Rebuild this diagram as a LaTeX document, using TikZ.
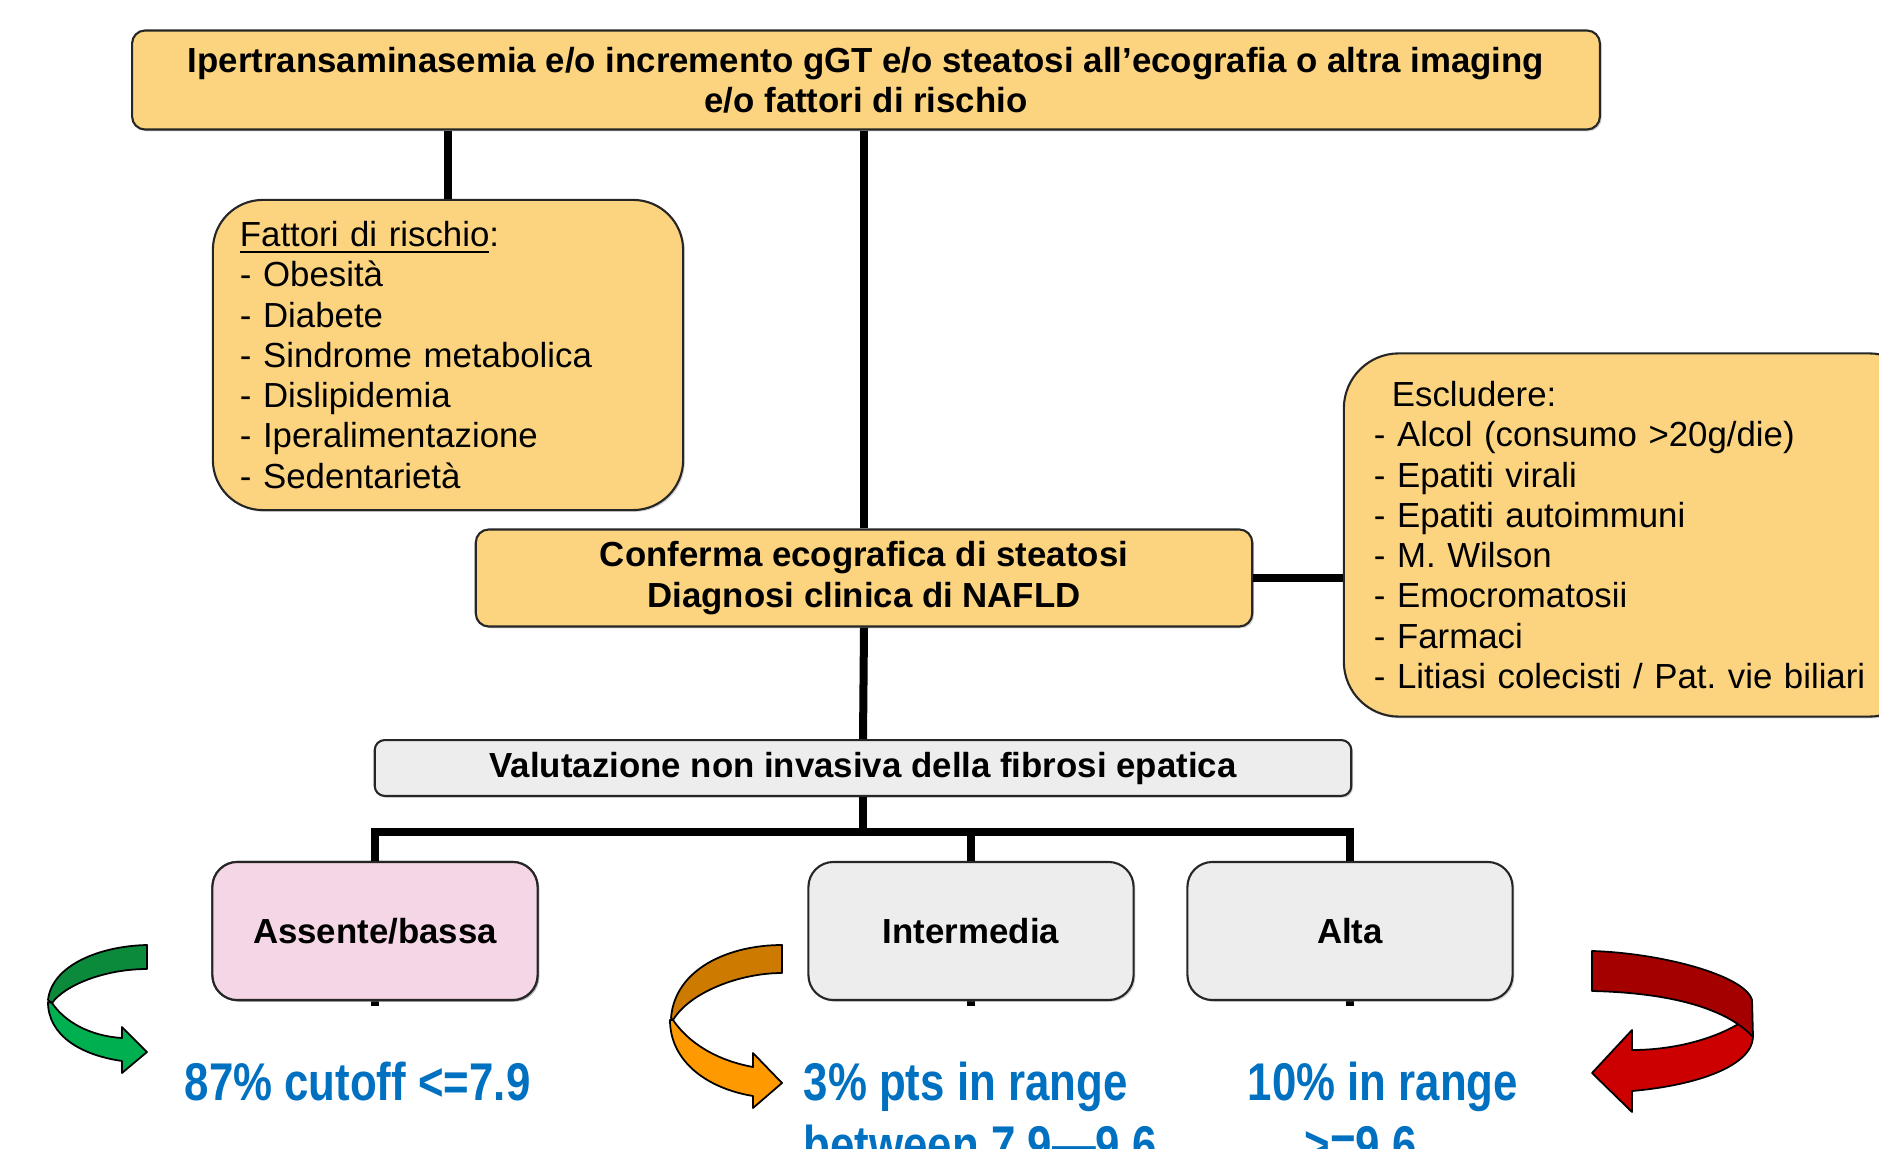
\documentclass[tikz,border=0pt]{standalone}
\usepackage{fontspec}
\setmainfont{Liberation Sans}
\newfontfamily\narrowfont[FakeStretch=0.825]{Liberation Sans}
\usepackage{tikz}
\usetikzlibrary{shapes,shadows}
\pgfdeclarelayer{background}
\pgfsetlayers{background,main}
\frenchspacing
\definecolor{boxyellow}{HTML}{FCD47F}
\definecolor{boxpink}{HTML}{F5D6E6}
\definecolor{boxgrey}{HTML}{EDEDED}
\definecolor{resultblue}{HTML}{0070C0}
\definecolor{greendark}{HTML}{0B8A3C}
\definecolor{greenlight}{HTML}{00B050}
\definecolor{orangedark}{HTML}{CC7A00}
\definecolor{orangelight}{HTML}{FF9900}
\definecolor{reddark}{HTML}{A50000}
\definecolor{redlight}{HTML}{CC0000}
\tikzstyle{box}=[draw=black!85,line width=0.6pt,rounded corners=0.13cm,align=center,
  font=\fontsize{9.9pt}{11.45pt}\selectfont\bfseries,
  drop shadow={shadow xshift=0.5pt,shadow yshift=-0.5pt,opacity=0.35}]
\tikzstyle{yellow box} = [box, fill=boxyellow]
\tikzstyle{grey box} = [box, fill=boxgrey]
\tikzstyle{list box} = [yellow box, align=left, font=\fontsize{9.9pt}{11.45pt}\selectfont, inner ysep=0pt]
\tikzstyle{level box} = [grey box, minimum width=3.25cm, minimum height=1.38cm, rounded corners=0.25cm]
\tikzstyle{edge} = [draw,line width=0.08cm]
\tikzstyle{result} = [text=resultblue, inner sep=0pt,
  font=\narrowfont\bfseries\fontsize{15.1pt}{17.9pt}\selectfont]
\tikzstyle{ribbon} = [draw=black,line width=0.5pt,line join=round]

\begin{document}
\begin{tikzpicture}[x=0.01cm,y=-0.01cm]
    \useasboundingbox (0,0) rectangle (1879,1149);
    \clip (0,0) rectangle (1879,1149);
    % First the boxes of the flow
    \node[yellow box, minimum width=14.67cm, minimum height=0.99cm] (top) at (866,80)
        {Ipertransaminasemia e/o incremento gGT e/o steatosi all’ecografia o altra imaging\\e/o fattori di rischio};
    \node[list box, text width=4.16cm, inner xsep=0.27cm, minimum height=3.10cm, rounded corners=0.5cm] (rischio) at (448,355)
        {\underline{Fattori di rischio}:\\- Obesità\\- Diabete\\- Sindrome metabolica\\- Dislipidemia\\- Iperalimentazione\\- Sedentarietà};
    \node[yellow box, minimum width=7.76cm, minimum height=0.97cm] (nafld) at (864,578)
        {Conferma ecografica di steatosi\\Diagnosi clinica di NAFLD};
    \node[list box, text width=5.2cm, inner xsep=0.30cm, minimum height=3.63cm, rounded corners=0.55cm] (escludere) at (1634,535)
        {\hspace*{0.18cm}Escludere:\\- Alcol (consumo >20g/die)\\- Epatiti virali\\- Epatiti autoimmuni\\- M. Wilson\\- Emocromatosii\\- Farmaci\\- Litiasi colecisti / Pat. vie biliari};
    \node[grey box, minimum width=9.76cm, minimum height=0.53cm, rounded corners=0.1cm] (fibrosi) at (863,768)
        {Valutazione non invasiva della fibrosi epatica};
    \foreach \pos/\name/\label in {(375,931)/bassa/Assente\slash bassa, (971,931)/intermedia/Intermedia, (1350,931)/alta/Alta}
        \node[level box] (\name) at \pos {\label};
    \node[level box, fill=boxpink] at (bassa) {Assente/bassa};

    % Connect the boxes
    \coordinate (bar) at (863,832);
    \path[edge] (rischio.north) -- (rischio.north |- top.south);
    \path[edge] (nafld.north) -- (nafld.north |- top.south);
    \path[edge] (nafld.east) -- (nafld.east -| escludere.west);
    \path[edge] (nafld.south) -- (fibrosi.north);
    \path[edge] (fibrosi.south) -- (bar);
    \path[edge] (bassa.north) |- (bar) -| (alta.north);
    \path[edge] (intermedia.north) -- (intermedia.north |- bar);
    \begin{pgfonlayer}{background}
        \foreach \name in {bassa, intermedia, alta}
            \path[edge] (\name.center) -- ([yshift=-0.05cm]\name.south);
    \end{pgfonlayer}

    % Results
    \node[result, anchor=base west] (low) at (184,1100) {87\% cutoff <=7.9};
    \node[result, align=left, anchor=north west] (mid) at (803,1061) {3\% pts in range\\between 7.9—9.6};
    \node[result, align=center, anchor=north] (high) at (1383,1061) {10\% in range\\>=9.6\hspace*{0.45cm}};

    % Curved arrows
    \path[ribbon, fill=greendark] (147,945) .. controls (100,946) and (52,965) .. (48,1000)
        -- (52,1003) .. controls (65,985) and (105,969) .. (147,969) -- cycle;
    \path[ribbon, fill=greenlight] (52,1003) .. controls (65,1022) and (90,1036) .. (122,1038)
        -- (122,1027) -- (147,1052) -- (122,1073) -- (122,1061)
        .. controls (80,1055) and (48,1035) .. (48,1002) -- cycle;
    \path[ribbon, fill=orangedark] (782,945) .. controls (730,945) and (675,968) .. (671,1018)
        -- (673,1020) .. controls (690,992) and (740,973) .. (782,973) -- cycle;
    \path[ribbon, fill=orangelight] (673,1020) .. controls (688,1042) and (715,1060) .. (753,1067)
        -- (753,1053) -- (782,1083) -- (753,1108) -- (753,1096)
        .. controls (705,1088) and (670,1060) .. (670,1020) -- cycle;
    \path[ribbon, fill=redlight] (1740,1023) .. controls (1712,1040) and (1672,1050) .. (1632,1050)
        -- (1632,1030) -- (1592,1073) -- (1632,1112) -- (1632,1091)
        .. controls (1700,1085) and (1752,1065) .. (1753,1037) -- cycle;
    \path[ribbon, fill=reddark] (1592,951) .. controls (1660,953) and (1745,975) .. (1752,1000)
        -- (1753,1037) .. controls (1730,1012) and (1680,993) .. (1592,991) -- cycle;
\end{tikzpicture}
\end{document}
